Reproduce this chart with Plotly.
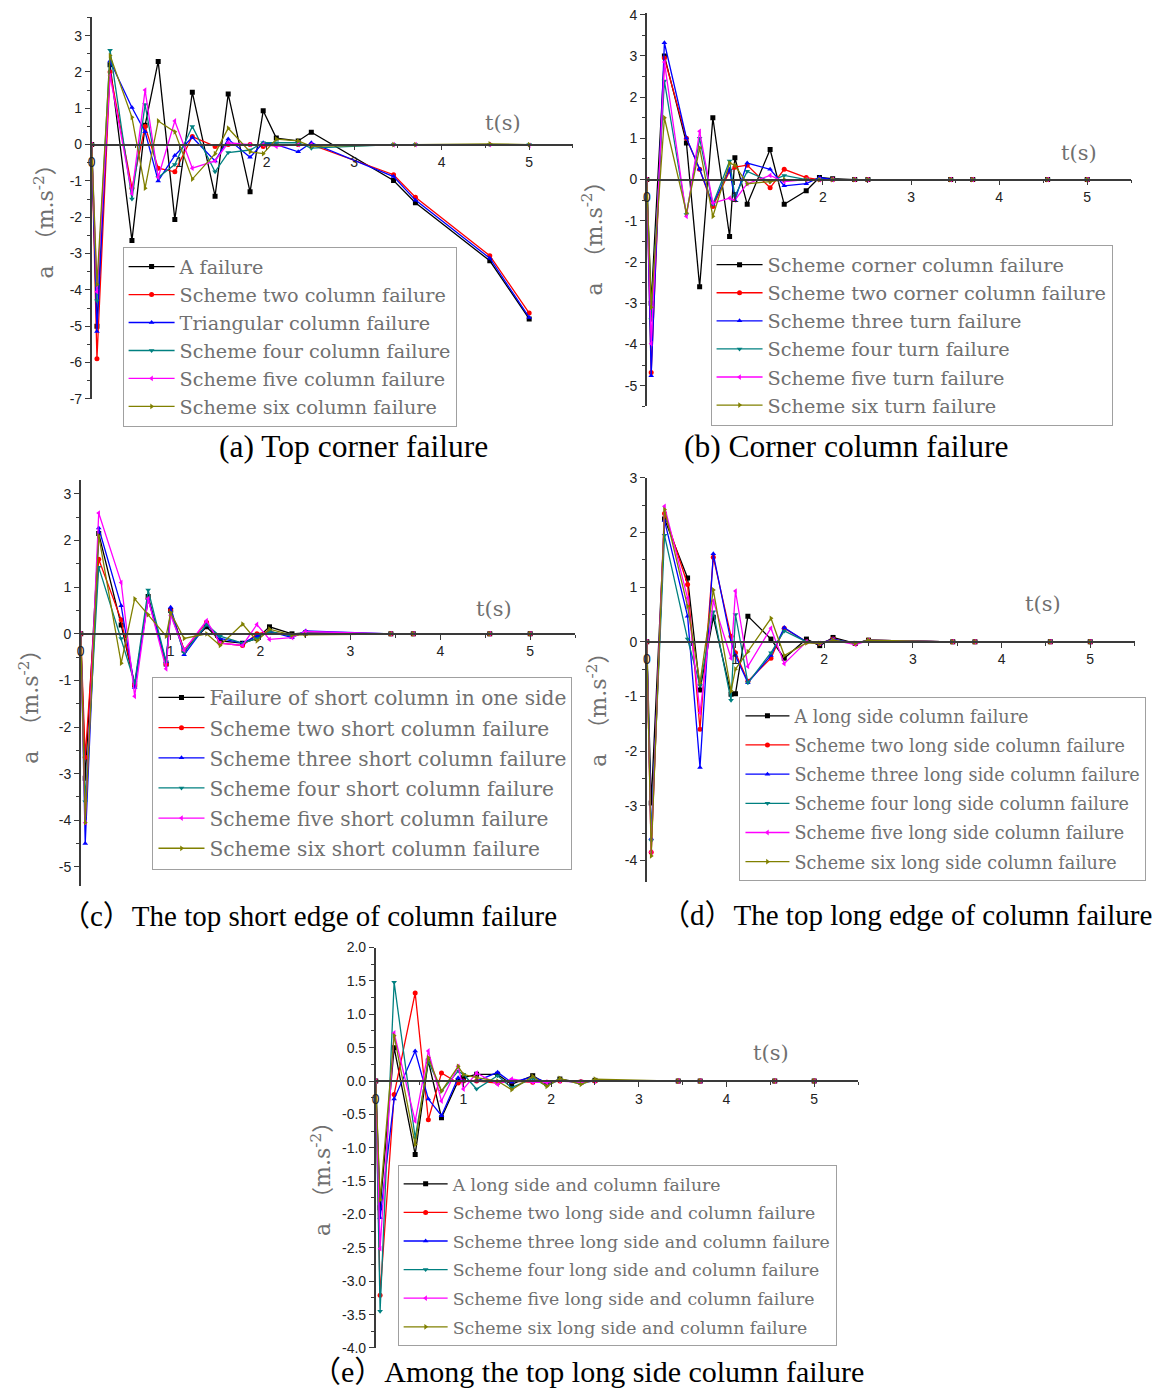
import plotly.graph_objects as go

W, H = 1162, 1391

colors = ["#000000", "#FF0000", "#0000FF", "#008080", "#FF00FF", "#808000"]
symbols = ["square", "circle", "triangle-up", "triangle-down", "triangle-left", "triangle-right"]

x_ticks = [0, 1, 2, 3, 4, 5]
x_tick_text = ["0", "1", "2", "3", "4", "5"]

# ---------------- (a) Top corner failure ----------------
names_a = ["A failure", "Scheme two column failure", "Triangular column failure",
           "Scheme four column failure", "Scheme five column failure", "Scheme six column failure"]
t_a = [0, 0.06, 0.21, 0.46, 0.61, 0.76, 0.95, 1.15, 1.41, 1.56, 1.81, 1.96, 2.11, 2.36, 2.51, 3.45, 3.7, 4.55, 5.0]
a1 = [0, -5.0, 2.2, -2.64, 0.53, 2.29, -2.06, 1.44, -1.42, 1.39, -1.3, 0.93, 0.18, 0.1, 0.34, -0.99, -1.6, -3.2, -4.8]
a2 = [0, -5.9, 2.0, -1.2, 0.5, -0.65, -0.75, 0.22, -0.05, 0.0, 0.0, -0.05, 0.0, 0.0, 0.0, -0.83, -1.45, -3.06, -4.64]
a3 = [0, -5.15, 2.3, 1.02, 0.35, -1.0, -0.3, 0.2, -0.45, 0.15, -0.35, 0.05, 0.0, -0.2, 0.05, -0.88, -1.53, -3.13, -4.76]
a4 = [0, -4.3, 2.6, -1.5, 1.1, -0.9, -0.55, 0.5, -0.75, -0.22, -0.15, 0.05, 0.05, 0.05, -0.1, 0.0, 0.0, 0.0, 0.0]
a5 = [0, -4.05, 1.9, -1.35, 1.5, -0.9, 0.65, -0.65, -0.45, 0.05, 0.0, 0.0, -0.05, 0.0, 0.0, 0.0, 0.0, 0.0, -0.02]
a6 = [0, -3.85, 2.45, 0.75, -1.2, 0.65, 0.35, -0.95, -0.25, 0.45, -0.2, -0.25, 0.15, 0.1, -0.05, 0.0, 0.0, 0.02, 0.0]
y_ticks_a = [3, 2, 1, 0, -1, -2, -3, -4, -5, -6, -7]
y_text_a = ["3", "2", "1", "0", "-1", "-2", "-3", "-4", "-5", "-6", "-7"]

# ---------------- (b) Corner column failure ----------------
names_b = ["Scheme corner column failure", "Scheme two corner column failure", "Scheme three turn failure",
           "Scheme four turn failure", "Scheme five turn failure", "Scheme six turn failure"]
t_b = [0, 0.05, 0.2, 0.45, 0.6, 0.75, 0.94, 1.0, 1.14, 1.4, 1.56, 1.81, 1.96, 2.11, 2.36, 2.51, 3.45, 3.7, 4.55, 5.0]
b1 = [0, -3.0, 3.0, 0.89, -2.6, 1.5, -1.38, 0.53, -0.6, 0.73, -0.6, -0.27, 0.05, 0.02, 0.0, 0.0, 0.0, 0.0, 0.0, 0.0]
b2 = [0, -4.68, 2.95, 1.0, 0.25, -0.65, 0.2, 0.3, 0.35, -0.2, 0.25, 0.05, 0.0, 0.0, 0.0, 0.0, 0.0, 0.0, 0.0, 0.0]
b3 = [0, -4.76, 3.32, 1.01, 0.25, -0.6, 0.25, -0.5, 0.4, 0.25, -0.15, -0.1, 0.05, 0.0, 0.0, 0.0, 0.0, 0.0, 0.0, 0.0]
b4 = [0, -3.4, 2.39, -0.85, 1.0, -0.6, 0.45, -0.4, 0.2, -0.05, 0.1, 0.0, 0.0, 0.0, 0.0, 0.0, 0.0, 0.0, 0.0, 0.0]
b5 = [0, -3.98, 2.85, -0.89, 1.17, -0.57, -0.45, -0.5, -0.1, 0.1, -0.05, 0.0, 0.0, 0.0, 0.0, 0.0, 0.0, 0.0, 0.0, 0.0]
b6 = [0, -3.1, 1.5, -0.81, 0.77, -0.89, 0.4, 0.35, -0.1, -0.05, 0.0, 0.0, 0.0, 0.0, 0.0, 0.0, 0.0, 0.0, 0.0, 0.0]
y_ticks_b = [4, 3, 2, 1, 0, -1, -2, -3, -4, -5]
y_text_b = ["4", "3", "2", "1", "0", "-1", "-2", "-3", "-4", "-5"]

# ---------------- (c) Top short edge ----------------
names_c = ["Failure of short column in one side", "Scheme two short column failure",
           "Scheme three short column failure", "Scheme four short column failure",
           "Scheme five short column failure", "Scheme six short column failure"]
t_c = [0, 0.05, 0.2, 0.45, 0.6, 0.75, 0.95, 1.0, 1.15, 1.4, 1.55, 1.8, 1.96, 2.1, 2.35, 2.5, 3.45, 3.7, 4.55, 5.0]
c1 = [0, -3.1, 2.15, 0.19, -1.1, 0.8, -0.65, 0.5, -0.35, 0.15, -0.15, -0.2, -0.1, 0.15, 0.0, 0.02, 0.0, 0.0, 0.0, 0.0]
c2 = [0, -2.65, 1.6, 0.3, -1.1, 0.75, -0.65, 0.5, -0.35, 0.25, -0.2, -0.25, 0.0, 0.05, -0.05, 0.02, 0.0, 0.0, 0.0, 0.0]
c3 = [0, -4.5, 2.27, 0.6, -1.15, 0.75, -0.6, 0.57, -0.45, 0.2, -0.1, -0.2, -0.05, 0.05, -0.08, 0.06, 0.0, 0.0, 0.0, 0.0]
c4 = [0, -3.6, 1.43, -0.1, -1.05, 0.94, -0.6, 0.45, -0.4, 0.2, -0.05, -0.2, -0.1, 0.05, -0.05, 0.02, 0.0, 0.0, 0.0, 0.0]
c5 = [0, -4.05, 2.59, 1.1, -1.34, 0.75, -0.75, 0.4, -0.35, 0.28, -0.2, -0.25, 0.2, -0.12, -0.08, 0.05, 0.0, 0.0, 0.0, 0.0]
c6 = [0, -4.05, 2.1, -0.63, 0.75, 0.41, -0.05, 0.45, -0.1, 0.0, -0.25, 0.21, -0.15, 0.1, -0.03, -0.02, 0.0, 0.0, 0.0, 0.0]
y_ticks_c = [3, 2, 1, 0, -1, -2, -3, -4, -5]
y_text_c = ["3", "2", "1", "0", "-1", "-2", "-3", "-4", "-5"]

# ---------------- (d) Top long edge ----------------
names_d = ["A long side column failure", "Scheme two long side column failure",
           "Scheme three long side column failure", "Scheme four long side column failure",
           "Scheme five long side column failure", "Scheme six long side column failure"]
t_d = [0, 0.05, 0.2, 0.46, 0.6, 0.75, 0.95, 1.0, 1.14, 1.4, 1.55, 1.8, 1.95, 2.1, 2.35, 2.5, 3.45, 3.7, 4.55, 5.0]
d1 = [0, -2.95, 2.25, 1.17, -0.88, 0.45, -0.96, -0.95, 0.47, 0.05, -0.3, 0.05, -0.07, 0.08, -0.03, 0.03, 0.0, 0.0, 0.0, 0.0]
d2 = [0, -3.85, 2.35, 1.05, -1.6, 1.55, 0.1, -0.2, -0.72, -0.3, 0.25, 0.0, -0.03, 0.05, -0.03, 0.03, 0.0, 0.0, 0.0, 0.0]
d3 = [0, -3.6, 2.22, 0.47, -2.3, 1.61, 0.0, -0.25, -0.75, -0.25, 0.26, 0.0, -0.03, 0.05, -0.03, 0.03, 0.0, 0.0, 0.0, 0.0]
d4 = [0, -3.64, 1.95, 0.05, -0.8, 0.55, -1.07, 0.5, -0.75, -0.2, 0.2, 0.0, -0.03, 0.03, -0.02, 0.02, 0.0, 0.0, 0.0, 0.0]
d5 = [0, -3.85, 2.48, 0.8, -1.3, 0.75, -0.3, 0.93, -0.45, 0.25, -0.4, 0.0, -0.03, 0.03, -0.05, 0.02, 0.0, 0.0, 0.0, 0.0]
d6 = [0, -3.92, 2.42, 0.65, -0.75, 0.95, -0.9, -0.5, -0.18, 0.43, -0.25, -0.02, -0.03, 0.03, -0.03, 0.03, 0.0, 0.0, 0.0, 0.0]
y_ticks_d = [3, 2, 1, 0, -1, -2, -3, -4]
y_text_d = ["3", "2", "1", "0", "-1", "-2", "-3", "-4"]

# ---------------- (e) Among the top long side ----------------
names_e = ["A long side and column failure", "Scheme two long side and column failure",
           "Scheme three long side and column failure", "Scheme four long side and column failure",
           "Scheme five long side and column failure", "Scheme six long side and column failure"]
t_e = [0, 0.05, 0.21, 0.45, 0.6, 0.75, 0.94, 1.0, 1.15, 1.39, 1.55, 1.79, 1.95, 2.1, 2.34, 2.5, 3.45, 3.7, 4.55, 5.0]
e1 = [0, -1.9, 0.5, -1.1, 0.3, -0.55, 0.0, 0.05, 0.1, 0.1, -0.05, 0.08, -0.04, 0.03, -0.02, 0.01, 0.0, 0.0, 0.0, 0.0]
e2 = [0, -3.21, -0.2, 1.32, -0.58, 0.12, -0.03, 0.0, 0.0, -0.03, 0.0, -0.02, -0.02, 0.0, -0.01, 0.0, 0.0, 0.0, 0.0, 0.0]
e3 = [0, -2.05, -0.27, 0.45, -0.27, -0.52, 0.05, 0.0, 0.0, 0.13, -0.02, 0.06, -0.02, 0.01, -0.01, 0.01, 0.0, 0.0, 0.0, 0.0]
e4 = [0, -3.45, 1.48, -0.85, 0.3, -0.15, 0.15, 0.1, -0.12, 0.08, -0.1, 0.04, -0.07, 0.02, -0.04, 0.01, 0.0, 0.0, 0.0, 0.0]
e5 = [0, -2.51, 0.72, -0.6, 0.45, -0.3, 0.22, -0.12, 0.12, -0.05, 0.03, -0.02, -0.02, 0.0, -0.02, 0.0, 0.0, 0.0, 0.0, 0.0]
e6 = [0, -1.78, 0.68, -0.95, 0.35, -0.15, 0.22, 0.1, 0.05, 0.0, -0.13, 0.07, -0.08, 0.04, -0.05, 0.03, 0.0, 0.0, 0.0, 0.0]
y_ticks_e = [2.0, 1.5, 1.0, 0.5, 0.0, -0.5, -1.0, -1.5, -2.0, -2.5, -3.0, -3.5, -4.0]
y_text_e = ["2.0", "1.5", "1.0", "0.5", "0.0", "-0.5", "-1.0", "-1.5", "-2.0", "-2.5", "-3.0", "-3.5", "-4.0"]

captions = ["(a) Top corner failure", "(b) Corner column failure",
            "（c）The top short edge of column failure", "（d）The top long edge of column failure",
            "（e）Among the top long side column failure"]

# layout geometry (pixels): origin x, origin y (value 0), px per unit x, px per unit y
panels = [
    dict(t=t_a, ys=[a1, a2, a3, a4, a5, a6], names=names_a, yt=y_ticks_a, ytt=y_text_a,
         ox=88, oy=144, px=87.8, py=36.3, ymin=-7.0, ymax=3.5, minor=0.5,
         leg=(119, 246), legfont=19.2, gap=0.0, iw=46, ts=(501, 122), ytitle=(40, 215),
         cap=(351, 446), capsize=31.5),
    dict(t=t_b, ys=[b1, b2, b3, b4, b5, b6], names=names_b, yt=y_ticks_b, ytt=y_text_b,
         ox=645, oy=179, px=88.4, py=41.2, ymin=-5.5, ymax=4.05, minor=0.5,
         leg=(709, 244), legfont=19.3, gap=0.0, iw=46, ts=(1079, 152), ytitle=(590, 232),
         cap=(845, 446), capsize=31.5),
    dict(t=t_c, ys=[c1, c2, c3, c4, c5, c6], names=names_c, yt=y_ticks_c, ytt=y_text_c,
         ox=77, oy=633, px=90.2, py=46.6, ymin=-5.4, ymax=3.3, minor=0.5,
         leg=(149, 676), legfont=20.2, gap=0.9, iw=46, ts=(492, 608), ytitle=(25, 700),
         cap=(306, 915), capsize=29),
    dict(t=t_d, ys=[d1, d2, d3, d4, d5, d6], names=names_d, yt=y_ticks_d, ytt=y_text_d,
         ox=645, oy=641, px=89.0, py=54.6, ymin=-4.4, ymax=3.0, minor=0.5,
         leg=(738, 696), legfont=17.6, gap=3.3, iw=44, ts=(1043, 603), ytitle=(595, 703),
         cap=(906, 914), capsize=29),
    dict(t=t_e, ys=[e1, e2, e3, e4, e5, e6], names=names_e, yt=y_ticks_e, ytt=y_text_e,
         ox=373, oy=1080, px=88.0, py=66.7, ymin=-4.0, ymax=2.0, minor=0.25,
         leg=(395, 1164), legfont=17.3, gap=3.1, iw=44, ts=(770, 1052), ytitle=(318, 1172),
         cap=(586, 1370), capsize=30),
]


def fy(py):
    # vertical pixel (reference) -> vertical pixel in figure (compensates page rendering)
    return (py - 7.5) / 0.988


fig = go.Figure()
layout = dict(width=W, height=H, margin=dict(l=0, r=0, t=0, b=0, pad=0), autosize=False,
              paper_bgcolor="white", plot_bgcolor="rgba(0,0,0,0)", showlegend=True)
annotations = []
axis_color = "#3a3a3a"
tick_font = dict(family="Liberation Sans, Arial", size=14, color="#222222")
gray = "#707070"

for i, p in enumerate(panels):
    n = i + 1
    xa = "x" if n == 1 else f"x{n}"
    ya = "y" if n == 1 else f"y{n}"
    lg = "legend" if n == 1 else f"legend{n}"
    for k in range(6):
        fig.add_trace(go.Scatter(
            x=p["t"], y=p["ys"][k], name=p["names"][k], mode="lines+markers",
            xaxis=xa, yaxis=ya, legend=lg, legendgroup=f"{n}_{k}",
            line=dict(color=colors[k], width=1.3),
            marker=dict(symbol=symbols[k], size=5, color=colors[k]),
        ))
    xmax = 5.5
    x0 = p["ox"] / W
    x1 = (p["ox"] + xmax * p["px"]) / W
    top_px = fy(p["oy"] - p["ymax"] * p["py"])
    bot_px = fy(p["oy"] - p["ymin"] * p["py"])
    y0 = 1 - bot_px / H
    y1 = 1 - top_px / H
    zero_pos = 1 - fy(p["oy"]) / H
    xkey = "xaxis" if n == 1 else f"xaxis{n}"
    ykey = "yaxis" if n == 1 else f"yaxis{n}"
    layout[xkey] = dict(domain=[x0, x1], range=[0, xmax], anchor="free", position=zero_pos,
                        showline=True, linecolor=axis_color, linewidth=1.5,
                        ticks="outside", ticklen=5, tickwidth=1.2, tickcolor=axis_color,
                        tickvals=x_ticks, ticktext=x_tick_text, tickfont=tick_font,
                        showgrid=False, zeroline=False, fixedrange=True,
                        minor=dict(tickmode="linear", tick0=0, dtick=0.5, ticks="outside",
                                   ticklen=3, tickcolor=axis_color, showgrid=False))
    layout[ykey] = dict(domain=[y0, y1], range=[p["ymin"], p["ymax"]], anchor=xa,
                        showline=True, linecolor=axis_color, linewidth=1.5,
                        ticks="outside", ticklen=5, tickwidth=1.2, tickcolor=axis_color,
                        tickvals=p["yt"], ticktext=p["ytt"], tickfont=tick_font,
                        showgrid=False, zeroline=False, fixedrange=True,
                        minor=dict(tickmode="linear", tick0=0, dtick=p["minor"], ticks="outside",
                                   ticklen=3, tickcolor=axis_color, showgrid=False))
    layout[lg] = dict(x=p["leg"][0] / W, y=1 - fy(p["leg"][1]) / H, xanchor="left", yanchor="top",
                      bgcolor="white", bordercolor="#a0a0a0", borderwidth=1,
                      font=dict(family="DejaVu Serif", size=p["legfont"], color=gray),
                      tracegroupgap=p["gap"], itemwidth=p["iw"])
    annotations.append(dict(text="t(s)", x=p["ts"][0] / W, y=1 - fy(p["ts"][1]) / H, xref="paper", yref="paper",
                            showarrow=False, xanchor="center", yanchor="middle",
                            font=dict(family="DejaVu Serif", size=21, color=gray)))
    annotations.append(dict(text="a  （m.s<sup>-2</sup>）", x=p["ytitle"][0] / W, y=1 - fy(p["ytitle"][1]) / H,
                            xref="paper", yref="paper", showarrow=False, textangle=-90,
                            xanchor="center", yanchor="middle",
                            font=dict(family="DejaVu Serif, Noto Sans CJK SC", size=22, color=gray)))
    annotations.append(dict(text=captions[i], x=p["cap"][0] / W, y=1 - fy(p["cap"][1]) / H,
                            xref="paper", yref="paper", showarrow=False, xanchor="center", yanchor="middle",
                            font=dict(family="Liberation Serif, Times New Roman, Noto Sans CJK SC",
                                      size=p["capsize"], color="#000000")))

layout["annotations"] = annotations
fig.update_layout(**layout)
fig.write_html("out.html", config={"displayModeBar": False},
               post_script="document.body.style.margin='0px';document.body.style.overflow='hidden';")
